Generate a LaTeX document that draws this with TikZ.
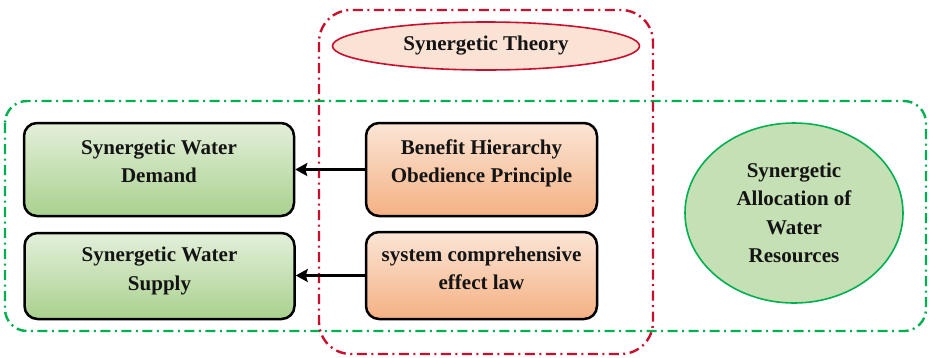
\documentclass[tikz,border=0pt]{standalone}
\usepackage{fontspec}
\setmainfont{Liberation Serif}
\usetikzlibrary{positioning}
\usetikzlibrary{arrows.meta}
\usetikzlibrary{shapes.geometric}
\definecolor{framegreen}{RGB}{0,176,80}
\definecolor{framered}{RGB}{200,16,46}
\definecolor{greentop}{RGB}{227,239,218}
\definecolor{greenbot}{RGB}{169,209,142}
\definecolor{orangetop}{RGB}{251,229,214}
\definecolor{orangebot}{RGB}{244,177,131}
\definecolor{theoryfill}{RGB}{250,226,212}
\definecolor{allocfill}{RGB}{197,224,180}
% two lines, pushed up by extra depth below
\newcommand{\boxtext}[2][21.5pt]{\begin{tabular}{@{}c@{}}#2\rule[-#1]{0pt}{0pt}\end{tabular}}

\begin{document}
\begin{tikzpicture}[x=1pt, y=-1pt,
    lbl/.style={font=\fontsize{21}{28.5}\selectfont\bfseries, align=center, text=black!92},
    greenbox/.style={lbl, draw=black, line width=2.5pt, rounded corners=13pt,
        top color=greentop, bottom color=greenbot, minimum width=270pt},
    orangebox/.style={lbl, draw=black, line width=2.5pt, rounded corners=13pt,
        top color=orangetop, bottom color=orangebot, minimum width=231pt},
    dashdot/.style={line width=2.4pt, dash pattern=on 10pt off 4.5pt on 2pt off 4.5pt},
    link/.style={-{Stealth[length=12pt,width=13pt,inset=2pt]}, line width=3.2pt}]
    \useasboundingbox (0,0) rectangle (929,357);
    % outer frames
    \draw[dashdot, framegreen, rounded corners=22pt] (5,101) rectangle (926,331);
    \draw[dashdot, framered, rounded corners=32pt] (319,10) rectangle (653,354);
    % theory
    \node[lbl, ellipse, draw=framered, line width=1.6pt, fill=theoryfill,
        minimum width=307pt, minimum height=48pt, inner sep=0pt] (theory) at (486,46) {Synergetic Theory};
    % left column
    \node[greenbox, minimum height=93pt] (demand) at (159,169.5) {\boxtext{Synergetic Water\\Demand}};
    \node[greenbox, minimum height=86pt] (supply) at (159.5,276) {\boxtext[19.5pt]{Synergetic Water\\Supply}};
    % middle column
    \node[orangebox, minimum height=93pt] (benefit) at (481.5,169.5) {\boxtext{Benefit Hierarchy\\Obedience Principle}};
    \node[orangebox, minimum height=87pt] (effect) at (481.5,275.5) {\boxtext[19.5pt]{system comprehensive\\effect law}};
    % right
    \node[lbl, ellipse, draw=framegreen, line width=1.6pt, fill=allocfill,
        minimum width=218pt, minimum height=180pt, inner sep=0pt] (alloc) at (794,213)
        {Synergetic\\Allocation of\\Water\\Resources};
    \draw[link] (benefit) -- (demand);
    \draw[link] (effect.west) -- (effect.west -| supply.east);
\end{tikzpicture}
\end{document}
